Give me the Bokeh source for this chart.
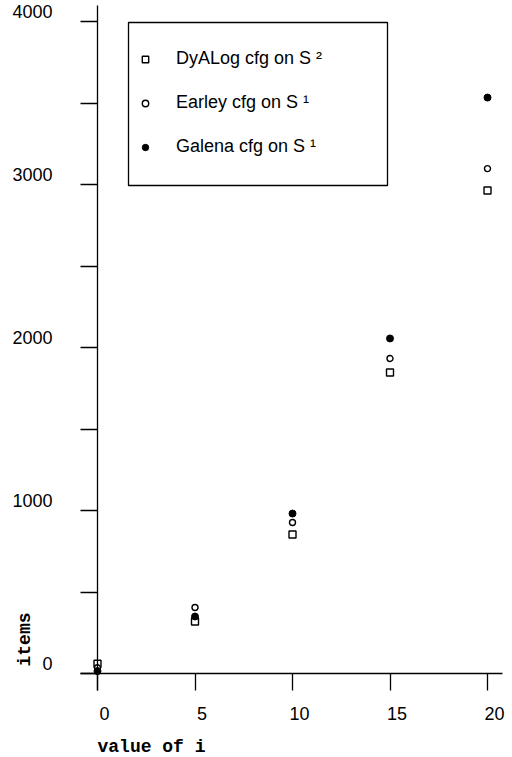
import math
from bokeh.plotting import figure
from bokeh.models import (LinearAxis, FixedTicker, Range1d, Legend, LegendItem,
                          BoxAnnotation, Label, ColumnDataSource)
from bokeh.embed import file_html
from bokeh.resources import INLINE

# ---- data ----
i_values = [0, 5, 10, 15, 20]
dyalog_items = [60, 319, 853, 1848, 2965]
earley_items = [35, 405, 927, 1934, 3100]
galena_items = [15, 350, 982, 2057, 3536]

x_ticks = [0, 5, 10, 15, 20]
y_ticks = [0, 500, 1000, 1500, 2000, 2500, 3000, 3500, 4000]
y_label_ticks = [0, 1000, 2000, 3000, 4000]
legend_labels = ["DyALog cfg on S \u00b2", "Earley cfg on S \u00b9", "Galena cfg on S \u00b9"]
x_title = "value of i"
y_title = "items"

src = ColumnDataSource(dict(i=i_values, dyalog=dyalog_items,
                            earley=earley_items, galena=galena_items))

X0, X1 = -4.9744, 21.282
Y0, Y1 = -515.7, 4131.9
PX_PER_X = 512 / (X1 - X0)
PX_PER_Y = 757 / (Y1 - Y0)

p = figure(width=512, height=757, output_backend="svg", toolbar_location=None,
           x_axis_type=None, y_axis_type=None,
           x_range=Range1d(X0, X1), y_range=Range1d(Y0, Y1),
           min_border_left=0, min_border_right=0, min_border_top=0,
           min_border_bottom=0)
p.outline_line_color = None
p.background_fill_color = "white"
p.border_fill_color = "white"

# label-only ranges: tick labels sit a little off their ticks, as in the original
dy = 10 / PX_PER_Y   # y labels 10px above their ticks
dx = 7 / PX_PER_X    # x labels start near their ticks
p.extra_y_ranges = {"ylab": Range1d(Y0 - dy, Y1 - dy)}
p.extra_x_ranges = {"xlab": Range1d(X0 - dx, X1 - dx)}

TICK_FONT = "Liberation Sans"

# y axis: line and ticks
yaxis = LinearAxis(fixed_location=0, ticker=FixedTicker(ticks=y_ticks),
                   bounds=(-104.4, 4101.3),
                   major_label_overrides={t: "" for t in y_ticks})
yaxis.major_tick_out = 17
yaxis.major_tick_in = 0
yaxis.minor_tick_out = 0
yaxis.minor_tick_in = 0
yaxis.axis_line_width = 1.3
yaxis.major_tick_line_width = 1.3
p.add_layout(yaxis, "left")

# y axis: labels
ylab = LinearAxis(fixed_location=0, y_range_name="ylab",
                  ticker=FixedTicker(ticks=y_label_ticks))
ylab.axis_line_color = None
ylab.major_tick_line_color = None
ylab.minor_tick_line_color = None
ylab.major_tick_out = 17
ylab.major_tick_in = 0
ylab.minor_tick_out = 0
ylab.minor_tick_in = 0
ylab.major_label_standoff = 28
ylab.major_label_text_font = TICK_FONT
ylab.major_label_text_font_size = "18px"
ylab.major_label_text_color = "black"
p.add_layout(ylab, "left")

# x axis: line and ticks
xaxis = LinearAxis(fixed_location=0, ticker=FixedTicker(ticks=x_ticks),
                   bounds=(-0.8718, 20.769),
                   major_label_overrides={t: "" for t in x_ticks})
xaxis.major_tick_out = 17
xaxis.major_tick_in = 0
xaxis.minor_tick_out = 0
xaxis.minor_tick_in = 0
xaxis.axis_line_width = 1.3
xaxis.major_tick_line_width = 1.3
p.add_layout(xaxis, "below")

# x axis: labels
xlab = LinearAxis(fixed_location=0, x_range_name="xlab",
                  ticker=FixedTicker(ticks=x_ticks))
xlab.axis_line_color = None
xlab.major_tick_line_color = None
xlab.minor_tick_line_color = None
xlab.major_tick_out = 17
xlab.major_tick_in = 0
xlab.minor_tick_out = 0
xlab.minor_tick_in = 0
xlab.major_label_standoff = 16
xlab.major_label_text_font = TICK_FONT
xlab.major_label_text_font_size = "18px"
xlab.major_label_text_color = "black"
p.add_layout(xlab, "below")

r_dy = p.scatter("i", "dyalog", source=src, marker="square", size=7,
                 fill_color="white", line_color="black", line_width=1.4)
r_ea = p.scatter("i", "earley", source=src, marker="circle", size=6,
                 fill_color="white", line_color="black", line_width=1.4)
r_ga = p.scatter("i", "galena", source=src, marker="circle", size=7,
                 fill_color="black", line_color="black", line_width=1)

legend = Legend(items=[LegendItem(label=legend_labels[0], renderers=[r_dy]),
                       LegendItem(label=legend_labels[1], renderers=[r_ea]),
                       LegendItem(label=legend_labels[2], renderers=[r_ga])],
                location=(137, 600), padding=0, margin=0, spacing=23,
                glyph_width=16, glyph_height=20, label_height=20,
                label_standoff=23, label_text_font=TICK_FONT,
                label_text_font_size="18px", label_text_color="black",
                border_line_alpha=0, background_fill_alpha=0)
p.add_layout(legend, "center")

box = BoxAnnotation(left=128, right=387, top=22, bottom=185,
                    left_units="canvas", right_units="canvas",
                    top_units="canvas", bottom_units="canvas",
                    fill_alpha=0, line_color="black", line_alpha=1.0,
                    line_width=1.3)
p.add_layout(box)

p.add_layout(Label(x=97, y=746, x_units="canvas", y_units="canvas", text=x_title,
                   text_font="Liberation Mono", text_font_style="bold",
                   text_font_size="18px", text_baseline="alphabetic",
                   text_align="left", text_color="black"))
p.add_layout(Label(x=24, y=639, x_units="canvas", y_units="canvas", text=y_title,
                   angle=math.pi / 2,
                   text_font="Liberation Mono", text_font_style="bold",
                   text_font_size="18px", text_baseline="middle",
                   text_align="center", text_color="black"))

open("out.html", "w").write(file_html(p, INLINE))
